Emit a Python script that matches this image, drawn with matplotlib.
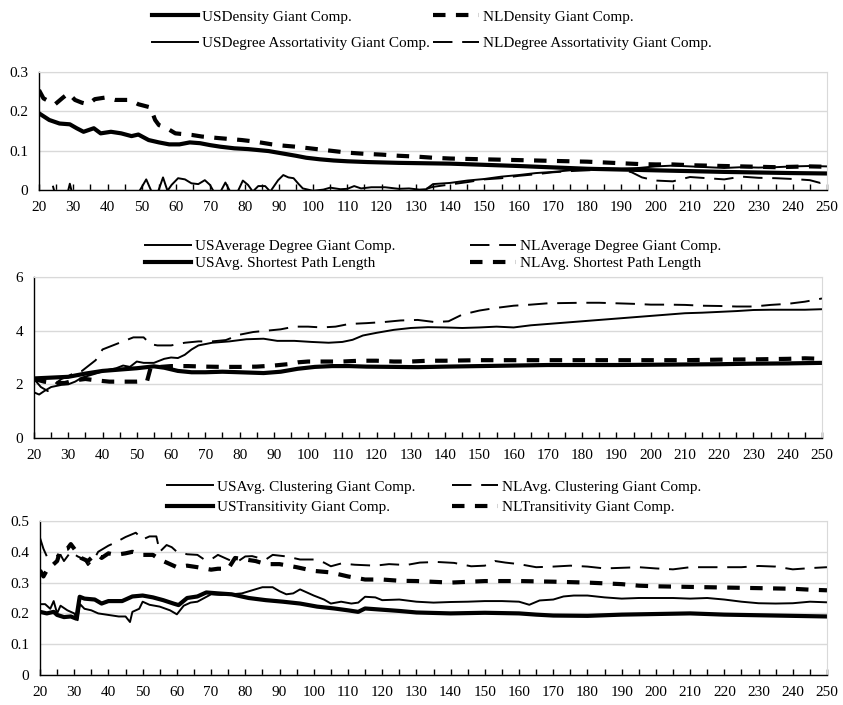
import matplotlib
matplotlib.use("Agg")
import matplotlib.pyplot as plt
from matplotlib.lines import Line2D
from matplotlib.ticker import MultipleLocator, FuncFormatter

plt.rcParams['font.family'] = ['Liberation Serif', 'DejaVu Serif']

# ===== DATA =====
# Panel 1: density / degree assortativity
us_dens_x = [20, 23, 26, 29, 31, 33, 36, 38, 41, 44, 47, 49, 52, 55, 58, 61, 64, 67, 70, 73,
             77, 81, 87, 91, 95, 98, 102, 106, 110, 116, 125, 140, 160, 180, 200, 220, 240, 250]
us_dens_y = [.195, .178, .169, .167, .157, .148, .157, .144, .148, .144, .137, .141, .127, .121, .116, .116, .121, .119, .114, .110,
             .106, .104, .099, .093, .087, .082, .078, .075, .073, .071, .069, .067, .061, .054, .050, .046, .043, .042]

nl_dens_x = [20, 21.3, 23, 24.7, 27, 28.6, 30.5, 32.5, 34.4, 36.3, 39.3, 42.2, 46.5, 49, 52.5, 53.9, 55, 57.3, 59.8, 64.6,
             67.5, 72.4, 79.2, 83.1, 88, 91, 95, 100, 105, 110, 115, 120, 125, 130, 135, 140, 145, 150, 155, 160,
             165, 170, 175, 180, 185, 190, 195, 200, 205, 210, 215, 220, 225, 230, 235, 240, 245, 250]
nl_dens_y = [0.254, 0.233, 0.225, 0.218, 0.235, 0.246, 0.229, 0.222, 0.218, 0.231, 0.235, 0.229, 0.229, 0.218, 0.21, 0.178, 0.165, 0.157, 0.144, 0.14,
             0.136, 0.132, 0.127, 0.123, 0.116, 0.113, 0.11, 0.105, 0.1, 0.095, 0.092, 0.09, 0.087, 0.085, 0.082, 0.08, 0.079, 0.078, 0.077, 0.076,
             0.075, 0.074, 0.073, 0.072, 0.07, 0.068, 0.066, 0.065, 0.065, 0.063, 0.062, 0.061, 0.06, 0.059, 0.058, 0.059, 0.06, 0.059]

us_assort_x = [20, 35, 48, 49.5, 51.3, 52.8, 54.8, 56.2, 57.5, 58.7, 60.6, 62.6, 64.5, 66.5, 68.4, 69.9, 71, 73, 74.4, 75.8,
               78, 79.5, 81, 82.4, 84, 86, 87.5, 89.8, 91.3, 92.8, 94.3, 95.8, 97, 100, 103, 105, 108, 110, 112, 114,
               117, 121, 125, 128, 131, 133, 135, 140, 145, 150, 155, 160, 165, 170, 175, 180, 185, 190, 195, 200,
               205, 210, 215, 220, 225, 230, 235, 240, 245, 250]
us_assort_y = [-0.05, -0.06, -0.02, 0.0, 0.027, -0.003, -0.003, 0.032, -0.002, 0.013, 0.03, 0.027, 0.017, 0.015, 0.025, 0.013, -0.004, -0.004, 0.019, -0.004,
               -0.004, 0.024, 0.013, -0.004, 0.01, 0.01, -0.004, 0.025, 0.038, 0.032, 0.03, 0.015, 0.004, -0.002, 0.001, 0.006, 0.002, 0.003, 0.01, 0.004,
               0.007, 0.007, 0.003, 0.004, 0.001, 0.002, 0.015, 0.018, 0.024, 0.028, 0.034, 0.038, 0.043, 0.046, 0.05, 0.053, 0.055, 0.054, 0.056, 0.06,
               0.062, 0.06, 0.058, 0.056, 0.058, 0.057, 0.058, 0.06, 0.061, 0.06]

nl_assort_x = [20, 23, 24, 25, 28, 29, 30, 40, 60, 80, 100, 120, 130, 135, 140, 145, 150, 155, 160, 165,
               170, 175, 180, 185, 190, 193, 196, 200, 205, 210, 215, 220, 225, 230, 235, 240, 245, 248, 250]
nl_assort_y = [-0.05, -0.02, 0.012, -0.02, -0.02, 0.016, -0.02, -0.05, -0.05, -0.04, -0.03, -0.02, -0.005, 0.008, 0.014, 0.02, 0.027, 0.03, 0.036, 0.04,
               0.045, 0.048, 0.05, 0.052, 0.052, 0.045, 0.032, 0.024, 0.022, 0.033, 0.03, 0.027, 0.034, 0.031, 0.03, 0.028, 0.025, 0.018, 0.023]

# Panel 2: average degree / shortest path length
us_deg_x = [20, 21.5, 23, 25, 28, 30, 32, 34, 38, 41, 44, 46, 48, 50, 52, 55, 58, 60, 62, 64,
            66, 68, 72, 77, 82, 87, 91, 96, 101, 106, 110, 113, 116, 120, 125, 130, 135, 140, 145, 150,
            155, 160, 165, 170, 175, 180, 185, 190, 195, 200, 205, 210, 215, 220, 225, 230, 235, 240, 245, 250]
us_deg_y = [1.7, 1.62, 1.75, 1.9, 1.98, 2.0, 2.1, 2.25, 2.4, 2.52, 2.6, 2.7, 2.65, 2.85, 2.8, 2.8, 2.95, 3.0, 2.98, 3.1,
            3.3, 3.45, 3.55, 3.6, 3.68, 3.7, 3.62, 3.62, 3.58, 3.55, 3.58, 3.66, 3.82, 3.92, 4.03, 4.1, 4.13, 4.12, 4.1, 4.12,
            4.15, 4.12, 4.2, 4.25, 4.3, 4.35, 4.4, 4.45, 4.5, 4.55, 4.6, 4.65, 4.67, 4.7, 4.73, 4.77, 4.78, 4.78, 4.78, 4.8]

nl_deg_x = [20, 22, 24, 26, 28, 30, 32, 34, 36, 38, 40, 43, 46, 49, 52, 54, 56, 60, 64, 68,
            72, 76, 80, 84, 88, 92, 96, 100, 104, 108, 112, 117, 122, 127, 132, 137, 141, 145, 150, 155,
            160, 165, 170, 175, 180, 185, 190, 195, 200, 205, 210, 215, 220, 225, 230, 235, 240, 245, 248, 250]
nl_deg_y = [2.2, 1.9, 1.75, 2.0, 2.2, 2.3, 2.45, 2.5, 2.7, 2.9, 3.3, 3.45, 3.6, 3.75, 3.75, 3.5, 3.45, 3.45, 3.55, 3.6,
            3.6, 3.65, 3.85, 3.95, 4.0, 4.05, 4.15, 4.15, 4.12, 4.15, 4.25, 4.28, 4.32, 4.38, 4.4, 4.32, 4.35, 4.6, 4.75, 4.85,
            4.93, 4.97, 5.02, 5.03, 5.04, 5.04, 5.02, 5.0, 4.97, 4.97, 4.96, 4.93, 4.92, 4.9, 4.9, 4.96, 5.0, 5.08, 5.15, 5.2]

us_spl_x = [20, 25, 30, 35, 40, 45, 50, 55, 58, 62, 66, 70, 75, 80, 87, 92, 97, 102, 107, 112,
            117, 125, 132, 140, 150, 160, 170, 180, 190, 200, 210, 220, 230, 240, 250]
us_spl_y = [2.22, 2.25, 2.28, 2.4, 2.5, 2.55, 2.6, 2.67, 2.62, 2.5, 2.45, 2.45, 2.47, 2.45, 2.42, 2.47, 2.58, 2.65, 2.68, 2.68,
            2.66, 2.65, 2.64, 2.66, 2.68, 2.7, 2.72, 2.72, 2.72, 2.73, 2.74, 2.75, 2.77, 2.78, 2.8]

nl_spl_x = [20, 23, 26, 29, 32, 35, 38, 42, 46, 50, 53, 54, 57, 60, 65, 70, 75, 80, 85, 90,
            94, 97, 100, 105, 110, 115, 120, 125, 130, 135, 140, 150, 160, 170, 180, 190, 200, 210, 220, 230,
            240, 245, 250]
nl_spl_y = [2.2, 2.1, 2.05, 2.05, 2.15, 2.2, 2.15, 2.1, 2.1, 2.1, 2.12, 2.6, 2.65, 2.68, 2.68, 2.66, 2.65, 2.65, 2.66, 2.7,
            2.75, 2.82, 2.85, 2.85, 2.85, 2.88, 2.88, 2.85, 2.85, 2.88, 2.88, 2.9, 2.9, 2.9, 2.9, 2.9, 2.9, 2.9, 2.92, 2.93,
            2.95, 2.97, 2.95]

# Panel 3: clustering / transitivity
us_clu_x = [20, 21.5, 23, 24, 25, 26, 28, 30, 31, 31.7, 33, 35, 37, 40, 43, 45, 46.3, 47, 49, 50,
            52, 55, 58, 60, 62, 64, 66, 68, 70, 73, 76, 79, 82, 85, 88, 90, 92, 94, 96, 98,
            100, 103, 105, 108, 111, 113, 115, 118, 120, 125, 130, 135, 140, 145, 150, 155, 160, 163, 166, 170,
            173, 176, 180, 185, 190, 195, 200, 205, 210, 215, 220, 225, 230, 235, 240, 245, 250]
us_clu_y = [0.23, 0.23, 0.215, 0.24, 0.2, 0.225, 0.21, 0.2, 0.178, 0.23, 0.215, 0.21, 0.2, 0.195, 0.19, 0.19, 0.172, 0.205, 0.215, 0.238,
            0.228, 0.222, 0.21, 0.197, 0.225, 0.235, 0.238, 0.25, 0.262, 0.26, 0.262, 0.265, 0.275, 0.285, 0.285, 0.272, 0.262, 0.265, 0.278, 0.268,
            0.258, 0.245, 0.232, 0.238, 0.232, 0.235, 0.254, 0.252, 0.243, 0.245, 0.238, 0.235, 0.237, 0.238, 0.24, 0.24, 0.238, 0.228, 0.242, 0.245,
            0.255, 0.258, 0.258, 0.252, 0.248, 0.25, 0.25, 0.25, 0.248, 0.25, 0.245, 0.238, 0.233, 0.232, 0.233, 0.238, 0.236]

us_tra_x = [20, 22, 24, 25, 27, 29, 30.6, 31.6, 33, 36, 38, 40, 44, 47, 50, 53, 56, 59, 60.5, 63,
            66, 68.6, 72, 76, 81, 86, 91, 96, 101, 106, 110, 113, 115, 120, 125, 130, 140, 150, 160, 165,
            170, 180, 190, 200, 210, 220, 230, 240, 250]
us_tra_y = [0.205, 0.2, 0.205, 0.195, 0.188, 0.19, 0.183, 0.254, 0.248, 0.245, 0.232, 0.24, 0.24, 0.255, 0.258, 0.252, 0.243, 0.232, 0.227, 0.25,
            0.255, 0.268, 0.265, 0.262, 0.25, 0.243, 0.238, 0.232, 0.222, 0.216, 0.21, 0.205, 0.216, 0.212, 0.208, 0.203, 0.2, 0.202, 0.2, 0.196,
            0.193, 0.192, 0.196, 0.198, 0.2, 0.196, 0.194, 0.192, 0.19]

nl_clu_x = [20, 21, 22, 24, 26, 27, 29, 31, 33, 34, 36, 37, 40, 42, 45, 48, 50, 52, 54, 55,
            57, 58.5, 60, 63, 66, 68, 70, 72, 76, 78, 80, 82, 84, 86, 88, 92, 96, 100, 103, 105,
            108, 112, 118, 122, 127, 131, 136, 141, 146, 150, 153, 156, 160, 165, 170, 175, 180, 185, 190, 195,
            200, 205, 210, 215, 220, 225, 230, 235, 240, 245, 250]
nl_clu_y = [0.445, 0.41, 0.385, 0.385, 0.39, 0.37, 0.4, 0.385, 0.375, 0.357, 0.38, 0.4, 0.42, 0.43, 0.448, 0.462, 0.44, 0.45, 0.45, 0.4,
            0.422, 0.415, 0.4, 0.392, 0.39, 0.375, 0.375, 0.39, 0.37, 0.37, 0.385, 0.386, 0.38, 0.375, 0.39, 0.385, 0.375, 0.375, 0.365, 0.353,
            0.362, 0.358, 0.355, 0.36, 0.357, 0.365, 0.367, 0.364, 0.353, 0.355, 0.37, 0.365, 0.36, 0.35, 0.352, 0.355, 0.352, 0.346, 0.348, 0.35,
            0.346, 0.343, 0.35, 0.35, 0.35, 0.35, 0.354, 0.352, 0.343, 0.347, 0.35]

nl_tra_x = [20, 21, 22, 24, 25, 26, 28, 29, 30, 32, 34, 35, 37, 38, 40, 42, 45, 47, 50, 53,
            55, 58, 60, 63, 66, 70, 72, 75, 77, 80, 83, 86, 90, 95, 100, 105, 110, 115, 120, 125,
            130, 140, 150, 160, 170, 180, 190, 195, 200, 210, 220, 230, 240, 245, 250]
nl_tra_y = [0.34, 0.32, 0.34, 0.36, 0.37, 0.405, 0.41, 0.425, 0.41, 0.38, 0.37, 0.38, 0.39, 0.38, 0.395, 0.39, 0.395, 0.4, 0.39, 0.39,
            0.375, 0.36, 0.35, 0.355, 0.35, 0.342, 0.345, 0.345, 0.38, 0.375, 0.37, 0.36, 0.36, 0.35, 0.338, 0.333, 0.32, 0.31, 0.31, 0.306,
            0.305, 0.3, 0.305, 0.305, 0.303, 0.3, 0.295, 0.29, 0.288, 0.286, 0.284, 0.282, 0.28, 0.277, 0.275]

# ===== ESTILOS =====
LW_THICK = 3.0
LW_THIN = 1.4
THICK_SOLID = dict(color="black", lw=LW_THICK, linestyle="-")
THICK_DASH = dict(color="black", lw=LW_THICK, linestyle=(0, (3, 2.5)))
THIN_SOLID = dict(color="black", lw=LW_THIN, linestyle="-")
THIN_DASH = dict(color="black", lw=LW_THIN, linestyle=(0, (10, 5)))
GRID = "#d9d9d9"
FS = 10.5

fig = plt.figure(figsize=(8.43, 7.05), dpi=100)
W, H = 843.0, 705.0


def make_axes(left_px, right_px, top_px, bottom_px, ymax, ystep):
    ax = fig.add_axes([left_px / W, 1 - bottom_px / H, (right_px - left_px) / W, (bottom_px - top_px) / H])
    ax.set_xlim(20, 250)
    ax.set_ylim(0, ymax)
    ax.xaxis.set_major_locator(MultipleLocator(10))
    ax.xaxis.set_minor_locator(MultipleLocator(5))
    ax.yaxis.set_major_locator(MultipleLocator(ystep))
    ax.yaxis.set_major_formatter(FuncFormatter(lambda v, p: f"{v:g}"))
    ax.tick_params(axis="x", which="both", direction="in", length=4, width=1, color="black",
                   labelsize=FS + 0.5, pad=8)
    ax.tick_params(axis="y", length=0, labelsize=FS + 0.5, pad=8)
    ax.grid(axis="y", color=GRID, lw=1)
    ax.set_axisbelow(True)
    ax.spines["left"].set_color("black")
    ax.spines["bottom"].set_color("black")
    ax.spines["left"].set_linewidth(1)
    ax.spines["bottom"].set_linewidth(1)
    ax.spines["top"].set_color(GRID)
    ax.spines["right"].set_color(GRID)
    return ax


def add_legend(entries, x_px, y_px, spacing):
    handles = [Line2D([], [], **style) for _, style in entries]
    labels = [lab for lab, _ in entries]
    fig.legend(handles, labels, loc="center left", bbox_to_anchor=(x_px / W, 1 - y_px / H),
               frameon=False, fontsize=FS + 0.5, handlelength=3.0, handletextpad=0.3,
               labelspacing=spacing, borderpad=0, borderaxespad=0)


# Painel 1
ax1 = make_axes(39, 827, 72, 190, 0.3, 0.1)
ax1.plot(us_dens_x, us_dens_y, **THICK_SOLID)
ax1.plot(nl_dens_x, nl_dens_y, **THICK_DASH)
ax1.plot(us_assort_x, us_assort_y, **THIN_SOLID)
ax1.plot(nl_assort_x, nl_assort_y, **THIN_DASH)
add_legend([("USDensity Giant Comp.", THICK_SOLID), ("USDegree Assortativity Giant Comp.", THIN_SOLID)],
           152, 30, 0.85)
add_legend([("NLDensity Giant Comp.", THICK_DASH), ("NLDegree Assortativity Giant Comp.", THIN_DASH)],
           433, 30, 0.85)

# Painel 2
ax2 = make_axes(34, 822, 277, 438, 6, 2)
ax2.plot(us_deg_x, us_deg_y, **THIN_SOLID)
ax2.plot(nl_deg_x, nl_deg_y, **THIN_DASH)
ax2.plot(us_spl_x, us_spl_y, **THICK_SOLID)
ax2.plot(nl_spl_x, nl_spl_y, **THICK_DASH)
add_legend([("USAverage Degree Giant Comp.", THIN_SOLID), ("USAvg. Shortest Path Length", THICK_SOLID)],
           145, 255, 0.2)
add_legend([("NLAverage Degree Giant Comp.", THIN_DASH), ("NLAvg. Shortest Path Length", THICK_DASH)],
           470, 255, 0.2)

# Painel 3
ax3 = make_axes(40, 827, 521, 675, 0.5, 0.1)
ax3.plot(us_clu_x, us_clu_y, **THIN_SOLID)
ax3.plot(nl_clu_x, nl_clu_y, **THIN_DASH)
ax3.plot(us_tra_x, us_tra_y, **THICK_SOLID)
ax3.plot(nl_tra_x, nl_tra_y, **THICK_DASH)
add_legend([("USAvg. Clustering Giant Comp.", THIN_SOLID), ("USTransitivity Giant Comp.", THICK_SOLID)],
           167, 497, 0.45)
add_legend([("NLAvg. Clustering Giant Comp.", THIN_DASH), ("NLTransitivity Giant Comp.", THICK_DASH)],
           452, 497, 0.45)

fig.savefig("out.png", dpi=100)
